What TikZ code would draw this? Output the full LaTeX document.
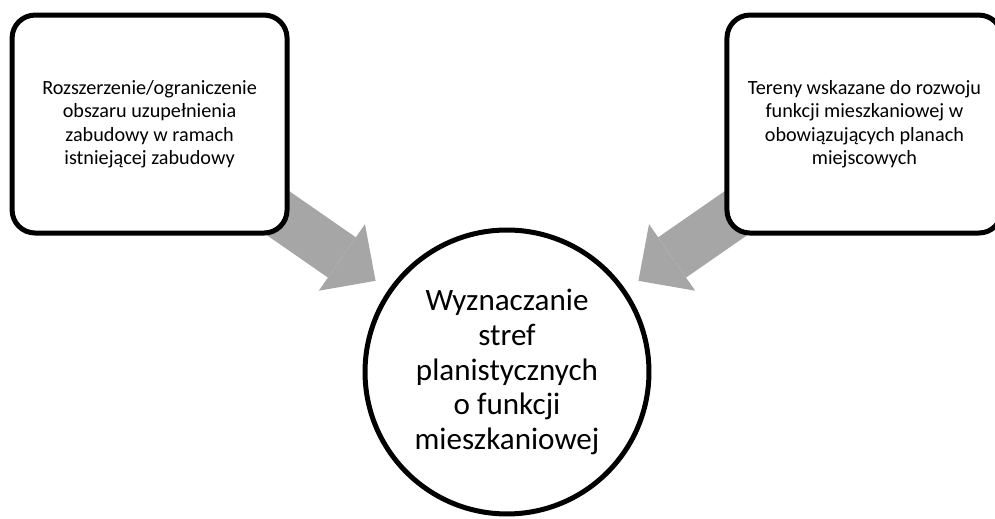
\documentclass[tikz,border=0pt]{standalone}
\usepackage{fontspec}
\setmainfont{Carlito}
\usetikzlibrary{positioning,arrows.meta,backgrounds}
\definecolor{arrowgray}{RGB}{166,166,166}

\begin{document}
\begin{tikzpicture}[x=0.02cm,y=-0.02cm,on grid,node distance=4.96cm and 7.15cm,
every node/.style={align=center},
src/.style={draw=black,line width=0.1cm,fill=white,rounded corners=0.46cm,minimum width=5.5cm,minimum height=4.36cm,inner sep=0pt,font=\fontsize{11.5}{13.3}\selectfont},
goal/.style={circle,draw=black,line width=0.1cm,fill=white,minimum size=5.68cm,inner sep=0pt,font=\fontsize{17.7}{19.8}\selectfont},
feed/.style={arrowgray,line width=0.98cm,shorten >=0.31cm,-{Triangle[width=1.62cm,length=0.82cm,line width=0pt]}}]
\useasboundingbox (0,0) rectangle (995,519);
\node[goal] (wyz) at (507,372) {Wyznaczanie\\stref\\planistycznych\\o funkcji\\mieszkaniowej};
\node[src] (roz) [above left =of wyz] {Rozszerzenie/ograniczenie\\obszaru uzupełnienia\\zabudowy w ramach\\istniejącej zabudowy};
\node[src] (ter) [above right=of wyz] {Tereny wskazane do rozwoju\\funkcji mieszkaniowej w\\obowiązujących planach\\miejscowych};

\begin{scope}[on background layer]
\draw[feed] (roz.center) -- (wyz);
\draw[feed] (ter.center) -- (wyz);
\end{scope}
\end{tikzpicture}
\end{document}
